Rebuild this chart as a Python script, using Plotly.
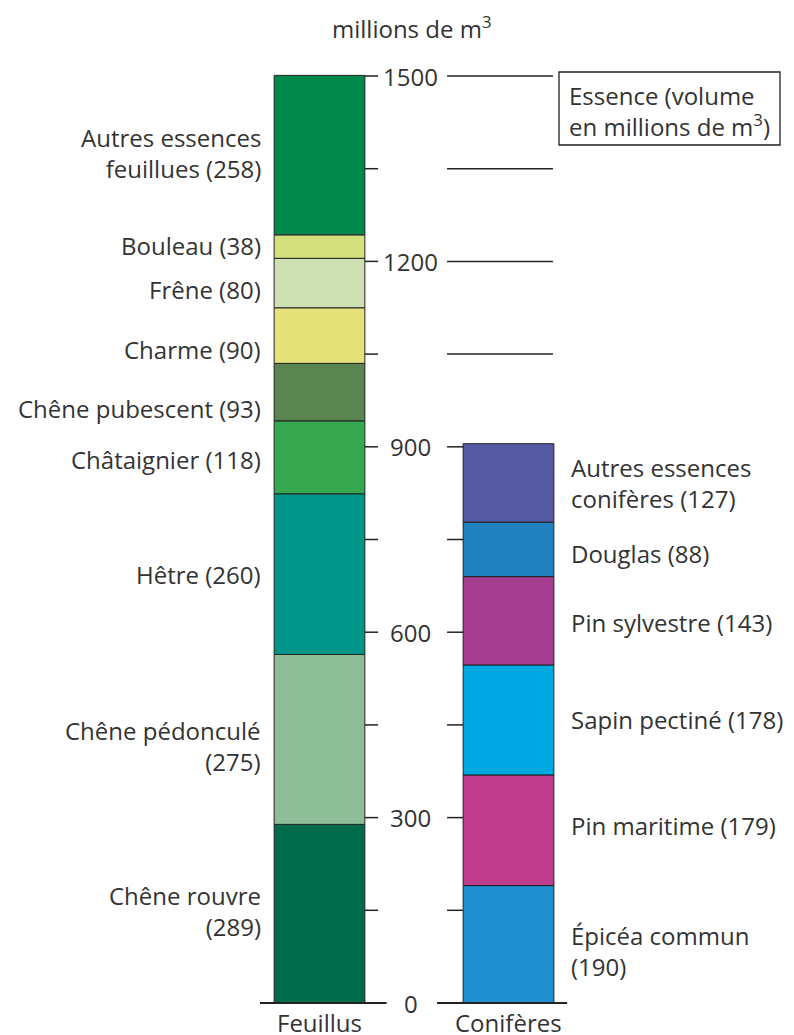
import plotly.graph_objects as go

# ---- data ----
groups = ["Feuillus", "Conifères"]

feuillus_names = ["Chêne rouvre<br>(289)", "Chêne pédonculé<br>(275)", "Hêtre (260)",
                  "Châtaignier (118)", "Chêne pubescent (93)", "Charme (90)",
                  "Frêne (80)", "Bouleau (38)", "Autres essences<br>feuillues (258)"]
feuillus_values = [289, 275, 260, 118, 93, 90, 80, 38, 258]

coniferes_names = ["Épicéa commun<br>(190)", "Pin maritime (179)", "Sapin pectiné (178)",
                   "Pin sylvestre (143)", "Douglas (88)", "Autres essences<br>conifères (127)"]
coniferes_values = [190, 179, 178, 143, 88, 127]

major_ticks = [0, 300, 600, 900, 1200, 1500]
all_ticks = [150, 300, 450, 600, 750, 900, 1050, 1200, 1350, 1500]

# ---- styling ----
feuillus_colors = ["#006B4A", "#8DBE98", "#00968A", "#36A84F", "#5A8550",
                   "#E5E27A", "#CDE1B2", "#D4E07C", "#00884B"]
feuillus_shift = [5, -11, -1, -4, -26, -23, -11, 1, 3]
coniferes_colors = ["#1E90D0", "#C03C8C", "#00A8E1", "#A43D8F", "#2181C1", "#5558A2"]
coniferes_shift = [-11, 7, 0, -2, -6, 0]

FONT = "Open Sans"
FS = 24
TXT = "#333333"
LINE = "#222222"
BW = 0.48

W, H = 786, 1027  # page body has 8px margin

fig = go.Figure()


def label(x, y, text, anchor):
    fig.add_annotation(x=x, y=y, xref="x", yref="y", text=text, showarrow=False,
                       xanchor=anchor, yanchor="middle", align=anchor,
                       font=dict(family=FONT, size=FS, color=TXT))


def add_stack(gi, names, values, colors, shifts, side):
    base = 0
    for n, v, c, s in zip(names, values, colors, shifts):
        fig.add_trace(go.Bar(x=[gi], y=[v], base=[base], width=BW,
                             marker=dict(color=c, line=dict(color=LINE, width=1)),
                             name=n.replace("<br>", " "), showlegend=False, hoverinfo="skip"))
        mid = base + v / 2 + s
        if side == "left":
            label(gi - 0.299, mid, n, "right")
        else:
            label(gi + 0.320, mid, n, "left")
        base += v
    return base


add_stack(0, feuillus_names, feuillus_values, feuillus_colors, feuillus_shift, "left")
con_total = add_stack(1, coniferes_names, coniferes_values, coniferes_colors, coniferes_shift, "right")

shapes = []
for t in all_ticks:
    shapes.append(dict(type="line", xref="x", yref="y", x0=BW / 2, x1=0.31,
                       y0=t, y1=t, line=dict(color=LINE, width=1.5)))
    x1r = 1 - BW / 2 if t <= con_total else 1 + BW / 2 - 0.005
    shapes.append(dict(type="line", xref="x", yref="y", x0=0.675, x1=x1r,
                       y0=t, y1=t, line=dict(color=LINE, width=1.5)))
# baselines
shapes.append(dict(type="line", xref="x", yref="y", x0=-0.315, x1=0.355,
                   y0=0, y1=0, line=dict(color=LINE, width=2)))
shapes.append(dict(type="line", xref="x", yref="y", x0=0.622, x1=1.31,
                   y0=0, y1=0, line=dict(color=LINE, width=2)))

# legend box
shapes.append(dict(type="rect", xref="paper", yref="paper",
                   x0=(559 - 8) / W, x1=(780 - 8) / W,
                   y0=1 - (145 - 8) / H, y1=1 - (72 - 8) / H,
                   line=dict(color=LINE, width=1.3), fillcolor="white"))
fig.add_annotation(x=(567 - 8) / W, y=1 - (111 - 8) / H, xref="paper", yref="paper",
                   text="Essence (volume<br>en millions de m<sup>3</sup>)", showarrow=False,
                   xanchor="left", yanchor="middle", align="left",
                   font=dict(family=FONT, size=FS, color=TXT))

for t in major_ticks:
    fig.add_annotation(x=0.484, y=t, xref="x", yref="y", text=str(t), showarrow=False,
                       xanchor="center", yanchor="middle",
                       font=dict(family=FONT, size=FS, color=TXT))

for i, g in enumerate(groups):
    fig.add_annotation(x=i, y=0, xref="x", yref="y", text=g, showarrow=False,
                       xanchor="center", yanchor="middle", yshift=-19.5,
                       font=dict(family=FONT, size=FS, color=TXT))

fig.add_annotation(x=(412 - 8) / W, y=1 - (28 - 8) / H, xref="paper", yref="paper",
                   text="millions de m<sup>3</sup>", showarrow=False,
                   xanchor="center", yanchor="middle",
                   font=dict(family=FONT, size=FS, color=TXT))

fig.update_layout(
    width=W, height=H, margin=dict(l=0, r=0, t=0, b=0),
    paper_bgcolor="white", plot_bgcolor="white",
    barmode="overlay", shapes=shapes,
    xaxis=dict(range=[-311.5 / 189, (W - 311.5) / 189], visible=False, fixedrange=True),
    yaxis=dict(range=[-(H - 995) / 0.618, 995 / 0.618], visible=False, fixedrange=True),
)

fig.write_html("out.html")
